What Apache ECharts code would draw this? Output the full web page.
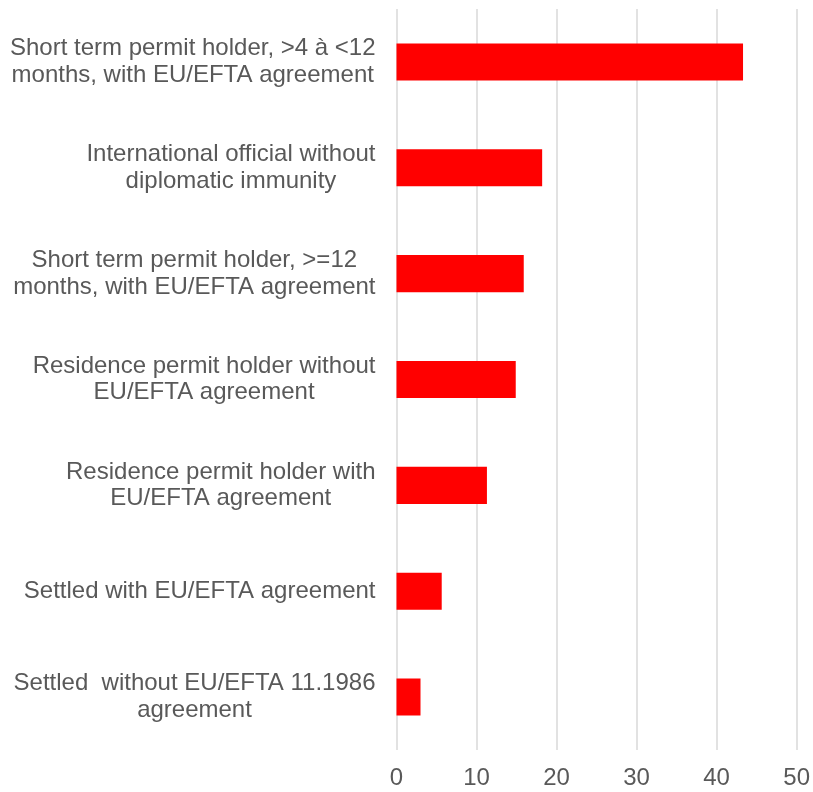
<!DOCTYPE html>
<html>
<head>
<meta charset="utf-8">
<script src="https://cdn.jsdelivr.net/npm/echarts@6/dist/echarts.min.js"></script>
<style>
  html, body { margin: 0; padding: 0; background: #fff; }
  #chart { width: 813px; height: 792px; }
</style>
</head>
<body>
<div id="chart"></div>
<script>
// categories, top to bottom
const categories = [
  'Short term permit holder, >4 à <12\nmonths, with EU/EFTA agreement',
  'International official without\ndiplomatic immunity',
  'Short term permit holder, >=12\nmonths, with EU/EFTA agreement',
  'Residence permit holder without\nEU/EFTA agreement',
  'Residence permit holder with\nEU/EFTA agreement',
  'Settled with EU/EFTA agreement',
  'Settled  without EU/EFTA 11.1986\nagreement'
]
const values = [43.3, 18.2, 15.9, 14.9, 11.3, 5.65, 3.0]
const xTicks = [0, 10, 20, 30, 40, 50]

const myChart = echarts.init(document.getElementById('chart'))
const option = {
  animation: false,
  textStyle: { fontFamily: 'Liberation Sans, Arial, sans-serif' },
  grid: {
    left: 396.5,
    right: 16,
    top: 9,
    bottom: 42
  },
  xAxis: {
    type: 'value',
    min: xTicks[0],
    max: xTicks[xTicks.length - 1],
    interval: 10,
    axisLine: { show: false },
    axisTick: { show: false },
    splitLine: { lineStyle: { color: '#d9d9d9', width: 1.5 } },
    axisLabel: { color: '#595959', fontSize: 24, margin: 16 }
  },
  yAxis: {
    type: 'category',
    inverse: true,
    data: categories,
    axisLine: { show: false },
    axisTick: { show: false },
    axisLabel: {
      margin: 21,
      formatter: function(v) {
        // each line centred inside a right-anchored block
        return v.split('\n').map(function(s) { return '{a|' + s + '}' }).join('\n')
      },
      rich: {
        a: { color: '#595959', fontSize: 24, lineHeight: 26.5, align: 'center' }
      }
    }
  },
  series: [
    {
      type: 'bar',
      data: values,
      barCategoryGap: '65%',
      itemStyle: { color: '#ff0000' }
    }
  ]
}

option && myChart.setOption(option)
</script>
</body>
</html>
